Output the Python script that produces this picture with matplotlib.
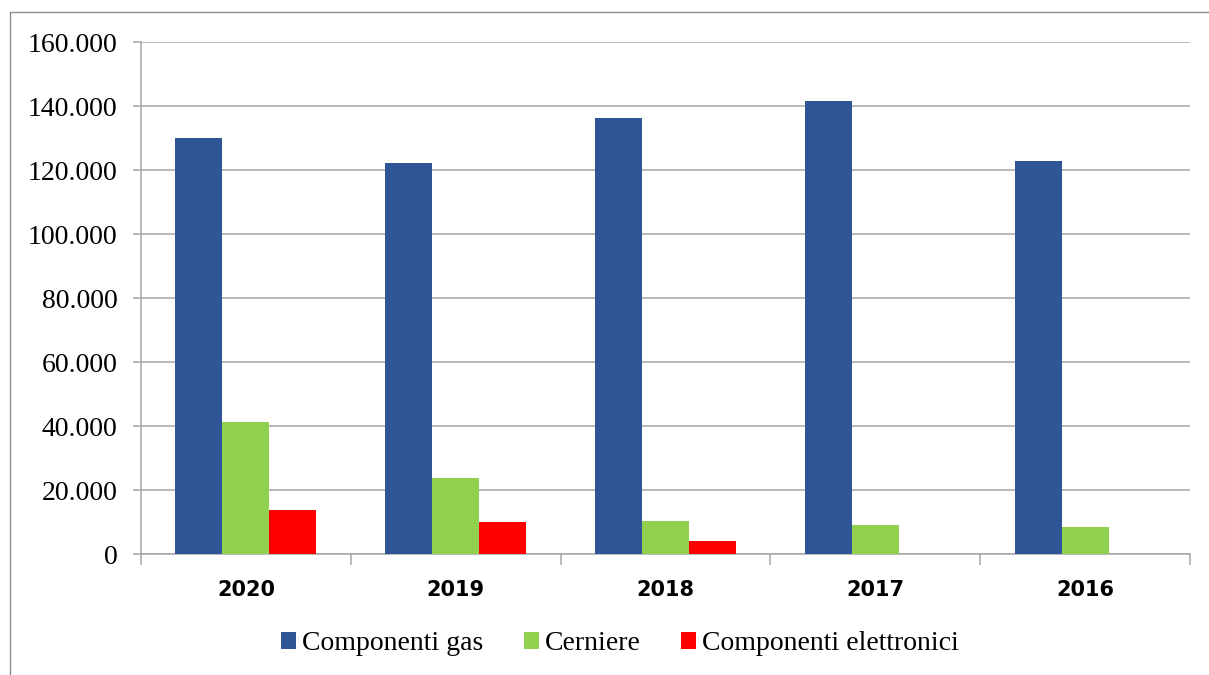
import numpy as np
import matplotlib.pyplot as plt
from matplotlib.patches import Rectangle
from matplotlib.ticker import FuncFormatter

# Dati
anni = ['2020', '2019', '2018', '2017', '2016']
componenti_gas = [130000, 122200, 136200, 141500, 122700]
cerniere = [41300, 23800, 10300, 9000, 8400]
componenti_elettronici = [13700, 9900, 4100, 0, 0]

serie = ['Componenti gas', 'Cerniere', 'Componenti elettronici']
colori = ['#2F5597', '#92D050', '#FF0000']

fig = plt.figure(figsize=(12.09, 6.75), dpi=100)
ax = fig.add_axes([141 / 1209, 121 / 675, 1049 / 1209, 512 / 675])

# bordo esterno del riquadro del grafico
fig.patches.append(Rectangle((10 / 1209, -0.05), 1.2, 0.05 + 663 / 675,
                             transform=fig.transFigure, fill=False,
                             edgecolor='#8c8c8c', linewidth=1.0))

x = np.arange(len(anni))
w = 0.224
valori = [componenti_gas, cerniere, componenti_elettronici]
for i, (v, nome, c) in enumerate(zip(valori, serie, colori)):
    ax.bar(x + (i - 1) * w, v, width=w, color=c, label=nome, zorder=3)

ax.set_xlim(-0.5, 4.5)
ax.set_ylim(0, 160000)
ax.set_yticks(np.arange(0, 160001, 20000))
ax.yaxis.set_major_formatter(FuncFormatter(lambda v, p: f'{int(v):,}'.replace(',', '.')))
ax.grid(axis='y', color='#a6a6a6', linewidth=1.1, zorder=0)

for s in ['top', 'right']:
    ax.spines[s].set_visible(False)
for s in ['left', 'bottom']:
    ax.spines[s].set_color('#a6a6a6')
    ax.spines[s].set_linewidth(1.1)

ax.set_xticks(x)
ax.set_xticklabels(anni, fontfamily='DejaVu Sans', fontweight='bold', fontsize=15)
ax.tick_params(axis='x', length=0, pad=19)
ax.set_xticks(np.arange(-0.5, 5, 1), minor=True)
ax.tick_params(axis='x', which='minor', length=8, color='#a6a6a6', width=1.1)
ax.tick_params(axis='y', length=6, color='#a6a6a6', width=1.1, pad=11)
for t in ax.get_yticklabels():
    t.set_fontfamily('Liberation Serif')
    t.set_fontsize(20)

fig.legend(loc='center', bbox_to_anchor=(620 / 1209, 1 - 644 / 675), ncol=3,
           frameon=False, prop={'family': 'Liberation Serif', 'size': 20},
           handlelength=0.54, handleheight=0.54, handletextpad=0.22,
           columnspacing=1.45, borderpad=0)

fig.savefig('out.png', dpi=100)
